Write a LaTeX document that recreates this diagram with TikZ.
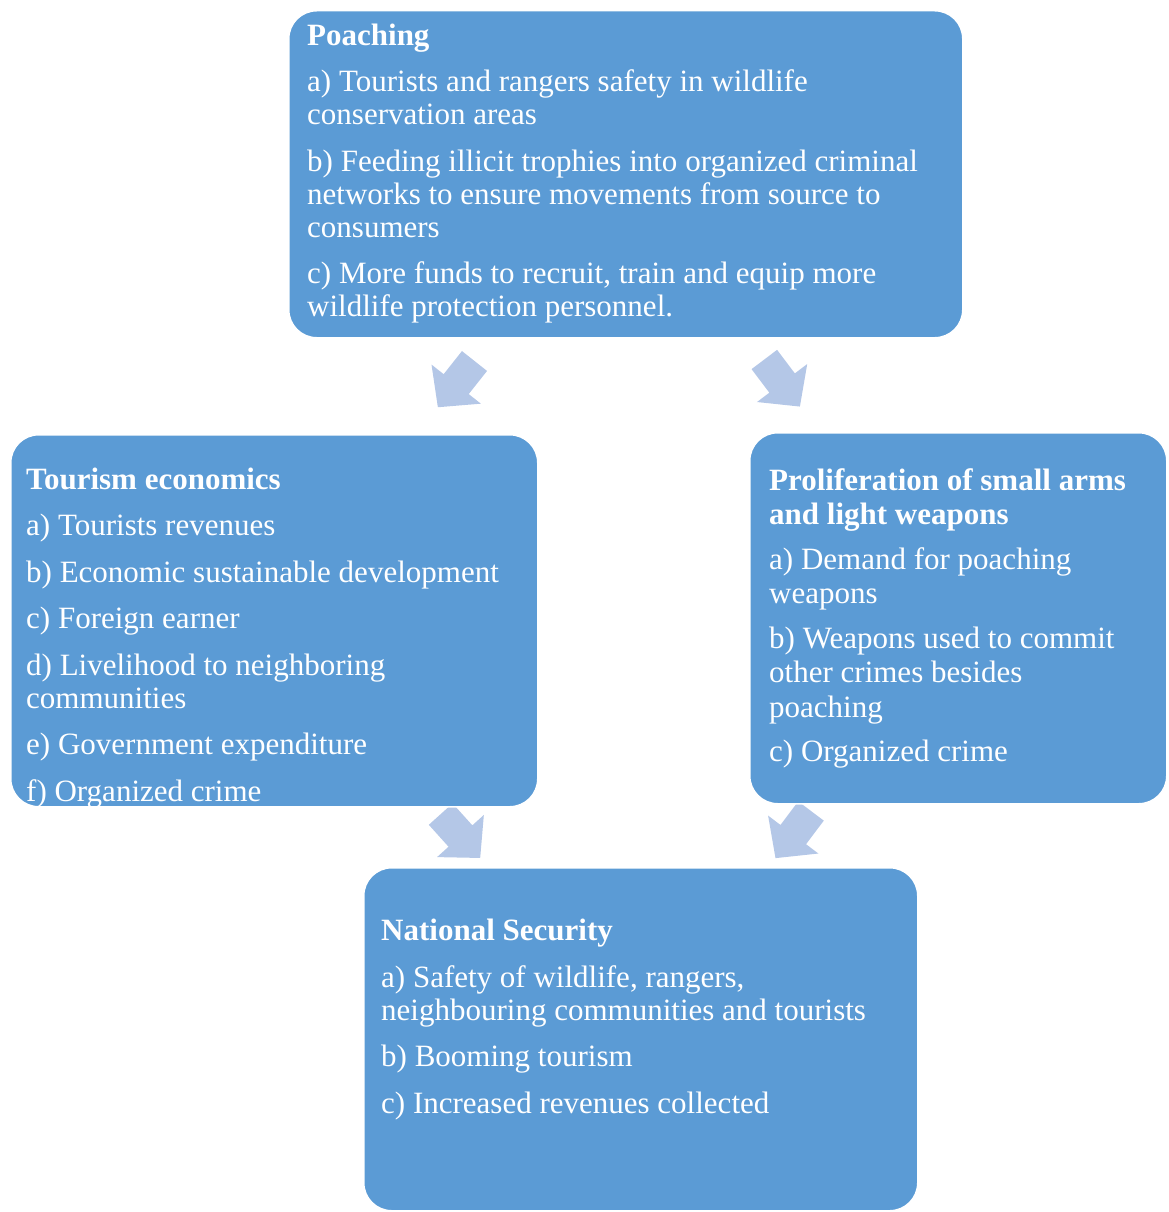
\documentclass[tikz,border=0pt]{standalone}
\usepackage{fontspec}
\setmainfont{Liberation Serif}

\definecolor{boxblue}{HTML}{5B9BD5}
\definecolor{arrowblue}{HTML}{B4C7E7}

\tikzset{
    box/.style={draw=white, line width=1.5pt, fill=boxblue, rounded corners=28pt, anchor=north west, inner sep=0pt},
    boxtext/.style={anchor=base west, inner sep=0pt, align=left, text=white, font=\fontsize{31}{33}\selectfont},
    blockarrow/.style={fill=arrowblue},
}

\begin{document}
\begin{tikzpicture}[x=1pt,y=1pt]
            % Rand
            \useasboundingbox (0,0) rectangle (1168,-1212);

            % Pfeile (Mitte hinten / Winkel)
            \foreach \px/\py/\ang in {474.5/361/231.6, 764.3/359.5/-52.9, 440.7/814.1/-48, 811/811/233} {
                \fill[blockarrow, shift={(\px,-\py)}, rotate=\ang]
                    (0,-16) -- (29.5,-16) -- (29.5,-31.5) -- (59,0) -- (29.5,31.5) -- (29.5,16) -- (0,16) -- cycle;
            }

            % Kästen
            \node[box, minimum width=674pt, minimum height=327pt] (poaching) at (288,-10) {};
            \node[box, minimum width=527pt, minimum height=372pt] (tourism) at (10,-434) {};
            \node[box, minimum width=417pt, minimum height=371pt] (arms) at (749,-432) {};
            \node[box, minimum width=554pt, minimum height=343pt] (security) at (363,-867) {};

            % Texte (Grundlinie der letzten Zeile)
            \node[boxtext] (poachingtext) at ([shift={(19pt,-306.5pt)}]poaching.north west) {%
                \textbf{Poaching}\\[13.5pt]
                a) Tourists and rangers safety in wildlife\\
                conservation areas\\[13.5pt]
                b) Feeding illicit trophies into organized criminal\\
                networks to ensure movements from source to\\
                consumers\\[13.5pt]
                c) More funds to recruit, train and equip more\\
                wildlife protection personnel.};

            \node[boxtext] (tourismtext) at ([shift={(16pt,-367pt)}]tourism.north west) {%
                \textbf{Tourism economics}\\[13.5pt]
                a) Tourists revenues\\[13.5pt]
                b) Economic sustainable development\\[13.5pt]
                c) Foreign earner\\[13.5pt]
                d) Livelihood to neighboring\\
                communities\\[13.5pt]
                e) Government expenditure\\[13.5pt]
                f) Organized crime};

            \node[boxtext, font=\fontsize{31}{34.5}\selectfont] (armstext) at ([shift={(20pt,-329.5pt)}]arms.north west) {%
                \textbf{Proliferation of small arms}\\
                \textbf{and light weapons}\\[10pt]
                a) Demand for poaching\\
                weapons\\[10pt]
                b) Weapons used to commit\\
                other crimes besides\\
                poaching\\[10pt]
                c) Organized crime};

            \node[boxtext] (securitytext) at ([shift={(18pt,-246pt)}]security.north west) {%
                \textbf{National Security}\\[13.5pt]
                a) Safety of wildlife, rangers,\\
                neighbouring communities and tourists\\[13.5pt]
                b) Booming tourism\\[13.5pt]
                c) Increased revenues collected};
\end{tikzpicture}
\end{document}
